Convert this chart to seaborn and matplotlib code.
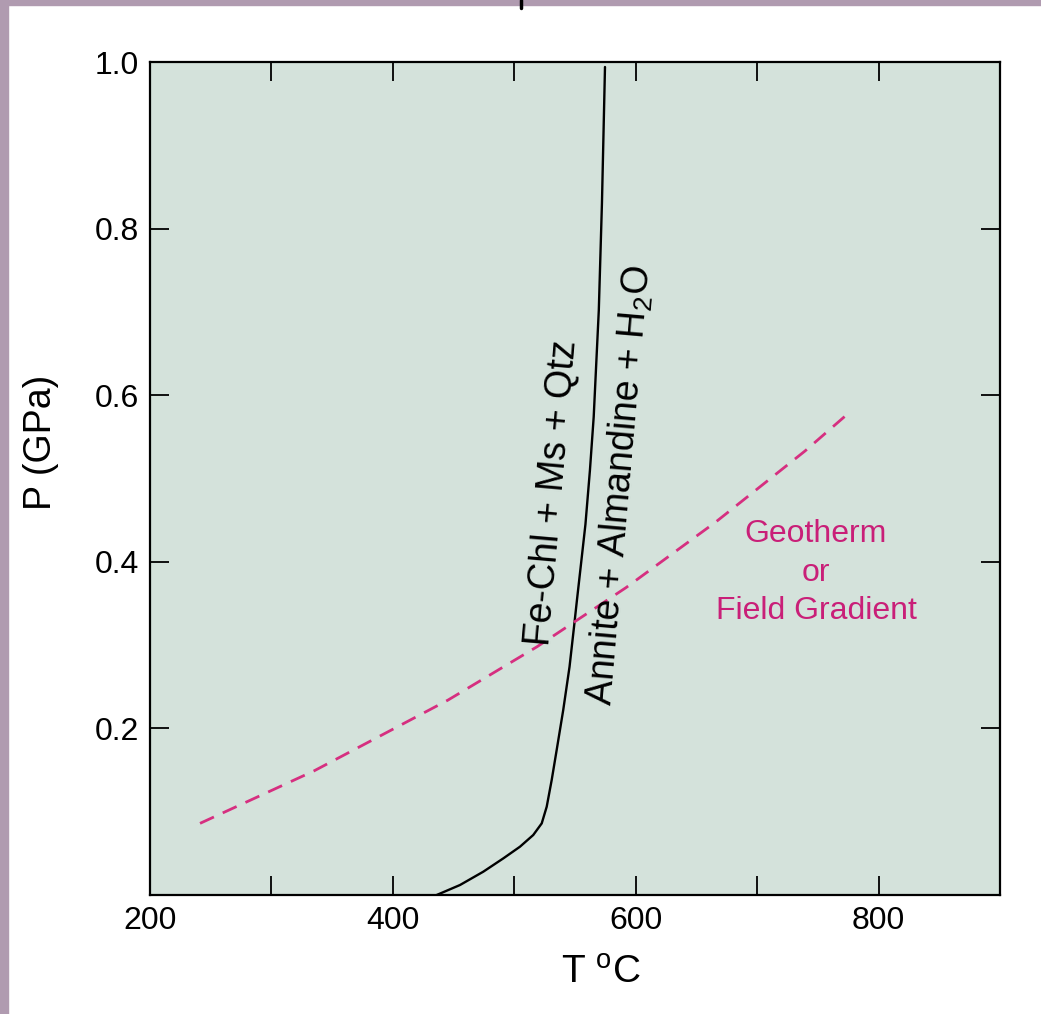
import numpy as np
import pandas as pd
import seaborn as sns
import matplotlib.pyplot as plt
from matplotlib.patches import Rectangle
from matplotlib.lines import Line2D

sns.set_theme(style="ticks")
plt.rcParams["font.family"] = ["Liberation Sans", "DejaVu Sans"]
plt.rcParams["mathtext.fontset"] = "custom"
plt.rcParams["mathtext.rm"] = "Liberation Sans"
plt.rcParams["mathtext.it"] = "Liberation Sans:italic"
plt.rcParams["text.color"] = "black"
plt.rcParams["axes.labelcolor"] = "black"

# reaction curve Fe-Chl + Ms + Qtz = Annite + Almandine + H2O
chl_T = [436.1, 455.3, 474.5, 491.0, 504.7, 515.6, 522.6, 526.7, 530.8, 534.9, 540.3,
         545.5, 549.2, 551.6, 555.3, 558.6, 562.3, 565.4, 569.6, 572.2, 574.7]
chl_P = [0.0, 0.012, 0.028, 0.044, 0.058, 0.072, 0.086, 0.106, 0.138, 0.174, 0.222,
         0.274, 0.322, 0.354, 0.402, 0.445, 0.510, 0.574, 0.702, 0.831, 0.994]

# geotherm / field gradient
geo_T = [241.2, 335.1, 445.4, 518.7, 592.0, 666.1, 739.4, 776.5]
geo_P = [0.086, 0.149, 0.234, 0.298, 0.369, 0.448, 0.533, 0.580]

x_ticks = [200, 300, 400, 500, 600, 700, 800, 900]
x_labels = ["200", "", "400", "", "600", "", "800", ""]
y_ticks = [0.0, 0.2, 0.4, 0.6, 0.8, 1.0]
y_labels = ["", "0.2", "0.4", "0.6", "0.8", "1.0"]

chl = pd.DataFrame({"T": chl_T, "P": chl_P})
geo = pd.DataFrame({"T": geo_T, "P": geo_P})

magenta_line = "#d62f80"
magenta_text = "#c91f78"

fig = plt.figure(figsize=(10.41, 10.14), dpi=100)
fig.patch.set_facecolor("white")
ax = fig.add_axes([150/1041, 1 - 895/1014, 850/1041, 833/1014])
ax.set_facecolor("#d4e2db")

sns.lineplot(data=chl, x="T", y="P", sort=False, color="black", linewidth=1.7, ax=ax)
sns.lineplot(data=geo, x="T", y="P", sort=False, color=magenta_line, linewidth=2.0, ax=ax)
ax.lines[1].set_dashes((5.5, 3.5))

ax.set_xlim(200, 900)
ax.set_ylim(0, 1.0)
ax.set_xticks(x_ticks)
ax.set_xticklabels(x_labels)
ax.set_yticks(y_ticks)
ax.set_yticklabels(y_labels)
ax.tick_params(direction="in", length=14, width=1.3, top=True, right=True,
               labelsize=23, colors="black", pad=8)
for s in ax.spines.values():
    s.set_linewidth(1.6)
    s.set_color("black")

ax.set_xlabel(r"T $\mathregular{^o}$C", fontsize=28)
ax.set_ylabel("P (GPa)", fontsize=27)
ax.xaxis.set_label_coords(0.53, -0.072)
ax.yaxis.set_label_coords(-0.107, 0.543)

ax.text(531, 0.483, "Fe-Chl + Ms + Qtz", rotation=85, fontsize=27,
        ha="center", va="center", rotation_mode="anchor")
ax.text(587, 0.492, r"Annite + Almandine + H$\mathregular{_2}$O", rotation=85, fontsize=27,
        ha="center", va="center", rotation_mode="anchor")
ax.text(748.5, 0.387, "Geotherm\nor\nField Gradient", fontsize=23, color=magenta_text,
        ha="center", va="center", linespacing=1.38)

# page border strips
border = "#b09bb0"
fig.patches.append(Rectangle((0, 0), 8/1041, 1, transform=fig.transFigure, color=border, zorder=0))
fig.patches.append(Rectangle((0, 1 - 5/1014), 1, 5/1014, transform=fig.transFigure, color=border, zorder=0))
fig.lines.append(Line2D([521/1041, 521/1041], [1, 1 - 8/1014], transform=fig.transFigure,
                        color="black", linewidth=2.5))

fig.savefig("out.png", dpi=100)
